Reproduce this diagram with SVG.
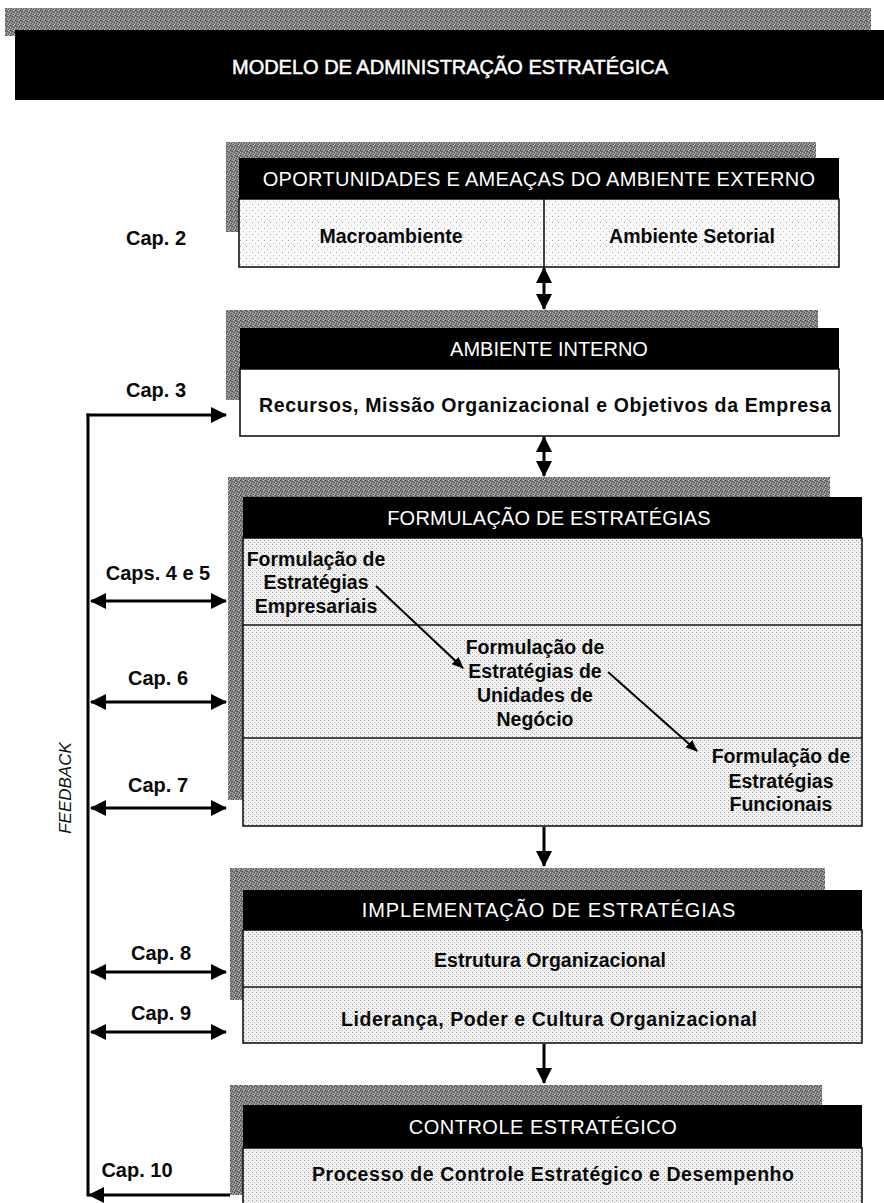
<svg xmlns="http://www.w3.org/2000/svg" width="884" height="1203" viewBox="0 0 884 1203">
  <style>
    .hdr { fill: #000; }
    .hdr-text { font-family: "Liberation Sans", Arial, sans-serif; fill: #fff; text-anchor: middle; font-size: 20px; }
    .body-text { font-family: "Liberation Sans", Arial, sans-serif; font-weight: bold; fill: #0a0a0a; text-anchor: middle; font-size: 19.5px; }
    .cap { font-family: "Liberation Sans", Arial, sans-serif; font-weight: bold; fill: #0a0a0a; text-anchor: middle; font-size: 20px; }
    .frame { stroke: #151515; stroke-width: 1.6; }
    .shadow { fill: url(#grain); }
    .conn { stroke: #000; stroke-width: 3; fill: none; }
    .diag { stroke: #000; stroke-width: 2; fill: none; }
  </style>
  <defs>
    <!-- speckled gray used for the offset shadows -->
    <pattern id="grain" width="5" height="5" patternUnits="userSpaceOnUse">
      <rect width="5" height="5" fill="#858585"/>
      <rect x="0" y="0" width="1" height="1" fill="#3e3e3e"/>
      <rect x="2" y="1" width="1" height="1" fill="#505050"/>
      <rect x="4" y="2" width="1" height="1" fill="#464646"/>
      <rect x="1" y="3" width="1" height="1" fill="#555"/>
      <rect x="3" y="4" width="1" height="1" fill="#4a4a4a"/>
      <rect x="1" y="1" width="1" height="1" fill="#6a6a6a"/>
      <rect x="3" y="0" width="1" height="1" fill="#c4c4c4"/>
      <rect x="0" y="2" width="1" height="1" fill="#bbb"/>
      <rect x="4" y="4" width="1" height="1" fill="#c8c8c8"/>
      <rect x="2" y="3" width="1" height="1" fill="#acacac"/>
    </pattern>
    <!-- light halftone for box bodies -->
    <pattern id="dots" width="4" height="4" patternUnits="userSpaceOnUse">
      <rect width="4" height="4" fill="#f2f2f2"/>
      <rect x="0" y="0" width="1" height="1" fill="#9c9c9c"/>
      <rect x="2" y="2" width="1" height="1" fill="#b4b4b4"/>
    </pattern>
    <pattern id="dotsLight" width="6" height="6" patternUnits="userSpaceOnUse">
      <rect width="6" height="6" fill="#f8f8f8"/>
      <rect x="0" y="0" width="1" height="1" fill="#a8a8a8"/>
      <rect x="3" y="3" width="1" height="1" fill="#c4c4c4"/>
    </pattern>
    <marker id="head" markerUnits="userSpaceOnUse" markerWidth="16" markerHeight="16" viewBox="0 0 16 16" refX="15" refY="8" orient="auto-start-reverse">
      <path d="M0,0 L16,8 L0,16 z" fill="#000"/>
    </marker>
    <marker id="headSmall" markerUnits="userSpaceOnUse" markerWidth="12" markerHeight="10" viewBox="0 0 12 10" refX="11" refY="5" orient="auto">
      <path d="M0,0 L12,5 L0,10 z" fill="#000"/>
    </marker>
  </defs>

  <rect width="884" height="1203" fill="#fff"/>

  <!-- title banner -->
  <g id="title">
    <rect x="5" y="8" width="866" height="28" class="shadow"/>
    <rect x="15" y="30" width="869" height="70" fill="#000"/>
    <text x="450" y="74" class="hdr-text" font-size="24" stroke="#fff" stroke-width="0.5" textLength="436" lengthAdjust="spacingAndGlyphs">MODELO DE ADMINISTRAÇÃO ESTRATÉGICA</text>
  </g>

  <!-- external environment -->
  <g id="node-externo">
    <rect x="226" y="142" width="590" height="90" class="shadow"/>
    <rect x="239" y="199" width="600" height="68" fill="url(#dotsLight)" class="frame"/>
    <rect x="239" y="158" width="600" height="41" class="hdr"/>
    <line x1="544" y1="199" x2="544" y2="267" class="frame"/>
    <text x="539" y="186" class="hdr-text" font-size="21" letter-spacing="0.3">OPORTUNIDADES E AMEAÇAS DO AMBIENTE EXTERNO</text>
    <text x="391" y="243" class="body-text">Macroambiente</text>
    <text x="692" y="243" class="body-text">Ambiente Setorial</text>
  </g>

  <!-- internal environment -->
  <g id="node-interno">
    <rect x="226" y="310" width="592" height="90" class="shadow"/>
    <rect x="240" y="369" width="599" height="67" fill="#fff" class="frame"/>
    <rect x="240" y="328" width="599" height="41" class="hdr"/>
    <text x="549" y="356" class="hdr-text" font-size="18">AMBIENTE INTERNO</text>
    <text x="545" y="412" class="body-text" textLength="572" lengthAdjust="spacing">Recursos, Missão Organizacional e Objetivos da Empresa</text>
  </g>

  <!-- strategy formulation -->
  <g id="node-formulacao">
    <rect x="228" y="477" width="602" height="323" class="shadow"/>
    <rect x="243" y="538" width="619" height="288" fill="url(#dots)" class="frame"/>
    <rect x="243" y="497" width="619" height="41" class="hdr"/>
    <line x1="243" y1="625" x2="862" y2="625" class="frame"/>
    <line x1="243" y1="738" x2="862" y2="738" class="frame"/>
    <text x="549" y="525" class="hdr-text" letter-spacing="0.2">FORMULAÇÃO DE ESTRATÉGIAS</text>
    <text x="316" y="566" class="body-text">Formulação de</text>
    <text x="316" y="589" class="body-text">Estratégias</text>
    <text x="316" y="613" class="body-text">Empresariais</text>
    <text x="535" y="654" class="body-text">Formulação de</text>
    <text x="535" y="678" class="body-text">Estratégias de</text>
    <text x="535" y="702" class="body-text">Unidades de</text>
    <text x="535" y="726" class="body-text">Negócio</text>
    <text x="781" y="763" class="body-text">Formulação de</text>
    <text x="781" y="788" class="body-text">Estratégias</text>
    <text x="781" y="811" class="body-text">Funcionais</text>
  </g>

  <!-- strategy implementation -->
  <g id="node-implementacao">
    <rect x="230" y="868" width="595" height="132" class="shadow"/>
    <rect x="243" y="930" width="619" height="113" fill="url(#dots)" class="frame"/>
    <rect x="243" y="890" width="619" height="40" class="hdr"/>
    <line x1="243" y1="987" x2="862" y2="987" class="frame"/>
    <text x="549" y="917" class="hdr-text" letter-spacing="0.9">IMPLEMENTAÇÃO DE ESTRATÉGIAS</text>
    <text x="550" y="967" class="body-text">Estrutura Organizacional</text>
    <text x="549" y="1026" class="body-text" textLength="416" lengthAdjust="spacing">Liderança, Poder e Cultura Organizacional</text>
  </g>

  <!-- strategic control -->
  <g id="node-controle">
    <rect x="230" y="1085" width="592" height="110" class="shadow"/>
    <rect x="243" y="1148" width="619" height="60" fill="url(#dots)" class="frame"/>
    <rect x="243" y="1105" width="619" height="43" class="hdr"/>
    <text x="543" y="1134" class="hdr-text" font-size="20.5" letter-spacing="0.5">CONTROLE ESTRATÉGICO</text>
    <text x="553" y="1181" class="body-text" textLength="482" lengthAdjust="spacing">Processo de Controle Estratégico e Desempenho</text>
  </g>

  <!-- chapter labels -->
  <g id="labels">
    <text x="156" y="245" class="cap">Cap. 2</text>
    <text x="156" y="397" class="cap">Cap. 3</text>
    <text x="158" y="580" class="cap">Caps. 4 e 5</text>
    <text x="158" y="685" class="cap">Cap. 6</text>
    <text x="158" y="792" class="cap">Cap. 7</text>
    <text x="161" y="960" class="cap">Cap. 8</text>
    <text x="161" y="1020" class="cap">Cap. 9</text>
    <text x="137" y="1177" class="cap">Cap. 10</text>
    <text transform="translate(71,788) rotate(-90)" font-family="Liberation Sans, Arial, sans-serif" font-style="italic" font-size="17" text-anchor="middle" fill="#111">FEEDBACK</text>
  </g>

  <!-- connectors -->
  <g id="connectors">
    <!-- feedback loop -->
    <line x1="88" y1="413.5" x2="88" y2="1196.5" class="conn"/>
    <line x1="86.5" y1="415" x2="226" y2="415" class="conn" marker-end="url(#head)"/>
    <line x1="91" y1="601" x2="226" y2="601" class="conn" marker-start="url(#head)" marker-end="url(#head)"/>
    <line x1="91" y1="702" x2="226" y2="702" class="conn" marker-start="url(#head)" marker-end="url(#head)"/>
    <line x1="91" y1="808" x2="226" y2="808" class="conn" marker-start="url(#head)" marker-end="url(#head)"/>
    <line x1="91" y1="972" x2="226" y2="972" class="conn" marker-start="url(#head)" marker-end="url(#head)"/>
    <line x1="91" y1="1032" x2="226" y2="1032" class="conn" marker-start="url(#head)" marker-end="url(#head)"/>
    <line x1="230" y1="1195" x2="89" y2="1195" class="conn" marker-end="url(#head)"/>

    <!-- flow between stages -->
    <line x1="544" y1="268" x2="544" y2="309" class="conn" marker-start="url(#head)" marker-end="url(#head)"/>
    <line x1="544" y1="437" x2="544" y2="476" class="conn" marker-start="url(#head)" marker-end="url(#head)"/>
    <line x1="544" y1="827" x2="544" y2="866" class="conn" marker-end="url(#head)"/>
    <line x1="544" y1="1044" x2="544" y2="1083" class="conn" marker-end="url(#head)"/>

    <!-- cascade inside formulation -->
    <line x1="376" y1="586" x2="463" y2="668" class="diag" marker-end="url(#headSmall)"/>
    <line x1="608" y1="672" x2="697" y2="751" class="diag" marker-end="url(#headSmall)"/>
  </g>
</svg>
